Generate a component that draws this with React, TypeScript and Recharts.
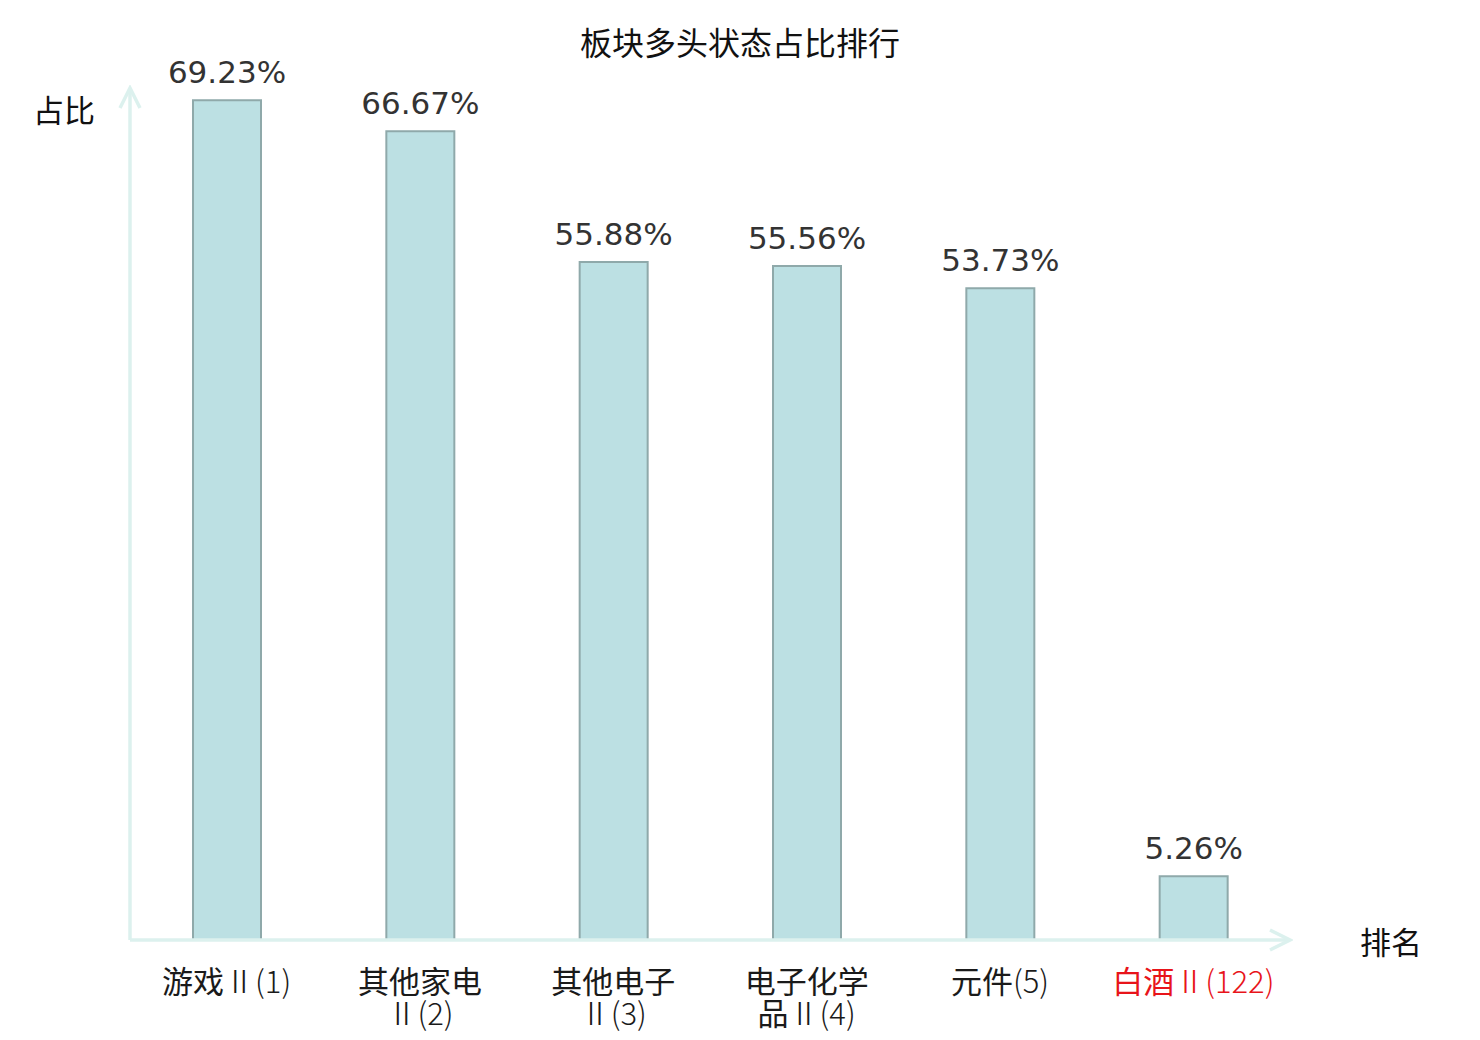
import React from "react";
import { Bar, BarChart, LabelList, XAxis, YAxis } from "recharts";

const sectors = ["游戏Ⅱ", "其他家电Ⅱ", "其他电子Ⅱ", "电子化学品Ⅱ", "元件", "白酒Ⅱ"];
const ranks = [1, 2, 3, 4, 5, 122];
const ratios = [69.23, 66.67, 55.88, 55.56, 53.73, 5.26];
const tickLines = [
  ["游戏Ⅱ(1)"],
  ["其他家电", "Ⅱ(2)"],
  ["其他电子", "Ⅱ(3)"],
  ["电子化学", "品Ⅱ(4)"],
  ["元件(5)"],
  ["白酒Ⅱ(122)"],
];
const highlight = "白酒Ⅱ";

const data = sectors.map((name, i) => ({
  name,
  rank: ranks[i],
  ratio: ratios[i],
  lines: tickLines[i],
}));

const cjk = "'Noto Sans CJK SC', 'DejaVu Sans', sans-serif";
const axisColor = "#dcf1ee";

// han characters regular, the roman numeral / rank part light
function runs(line: string) {
  return line.match(/[\u4e00-\u9fff]+|[^\u4e00-\u9fff]+/g) || [];
}

function SectorTick(props: any) {
  const { x, y, payload, index } = props;
  const item = data[index];
  const color = payload.value === highlight ? "#e8141a" : "#1a1a1a";
  return (
    <text x={x} y={y} textAnchor="middle" fontFamily={cjk} fontSize={31} fill={color}>
      {item.lines.map((line: string, i: number) => (
        <tspan key={i} x={x} dy={i === 0 ? 45 : 32}>
          {runs(line).map((r, j) => (
            <tspan key={j} fontWeight={/[\u4e00-\u9fff]/.test(r) ? 400 : 300}>
              {r}
            </tspan>
          ))}
        </tspan>
      ))}
    </text>
  );
}

export default function App() {
  return (
    <div style={{ position: "relative", width: 1464, height: 1032, background: "#fff" }}>
      <BarChart
        width={1464}
        height={1032}
        data={data}
        margin={{ top: 80, right: 182, left: 102, bottom: 0 }}
        barCategoryGap={0}
      >
        <defs>
          <marker
            id="axis-arrow"
            viewBox="0 0 26 26"
            refX={23}
            refY={13}
            markerWidth={26}
            markerHeight={26}
            markerUnits="userSpaceOnUse"
            orient="auto-start-reverse"
          >
            <path d="M3,3 L23,13 L3,23" fill="none" stroke={axisColor} strokeWidth={3.5} />
          </marker>
        </defs>
        <XAxis
          dataKey="name"
          height={100}
          tickLine={false}
          interval={0}
          axisLine={{ stroke: axisColor, strokeWidth: 3.5, markerEnd: "url(#axis-arrow)" }}
          tick={<SectorTick />}
        />
        <YAxis
          width={20}
          domain={[0, 70.23]}
          tick={false}
          tickLine={false}
          axisLine={{ stroke: axisColor, strokeWidth: 3.5, markerStart: "url(#axis-arrow)" }}
        />
        <Bar
          dataKey="ratio"
          barSize={68}
          fill="#bce0e3"
          stroke="#8fa9aa"
          strokeWidth={2}
          isAnimationActive={false}
        >
          <LabelList
            dataKey="ratio"
            position="top"
            offset={17}
            formatter={(v: any) => `${v}%`}
            style={{ fontFamily: "'DejaVu Sans', sans-serif", fontSize: 31, fill: "#333333" }}
          />
        </Bar>
      </BarChart>
      <div
        style={{
          position: "absolute",
          left: 0,
          width: 1464,
          top: 15,
          textAlign: "center",
          fontFamily: cjk,
          fontSize: 32,
          lineHeight: "36px",
          color: "#111",
        }}
      >
        板块多头状态占比排行
      </div>
      <div
        style={{
          position: "absolute",
          left: 25,
          top: 83,
          fontFamily: cjk,
          fontSize: 31,
          lineHeight: "36px",
          color: "#111",
        }}
      >
        占比
      </div>
      <div
        style={{
          position: "absolute",
          left: 1352,
          top: 915,
          fontFamily: cjk,
          fontSize: 31,
          lineHeight: "36px",
          color: "#111",
        }}
      >
        排名
      </div>
    </div>
  );
}
